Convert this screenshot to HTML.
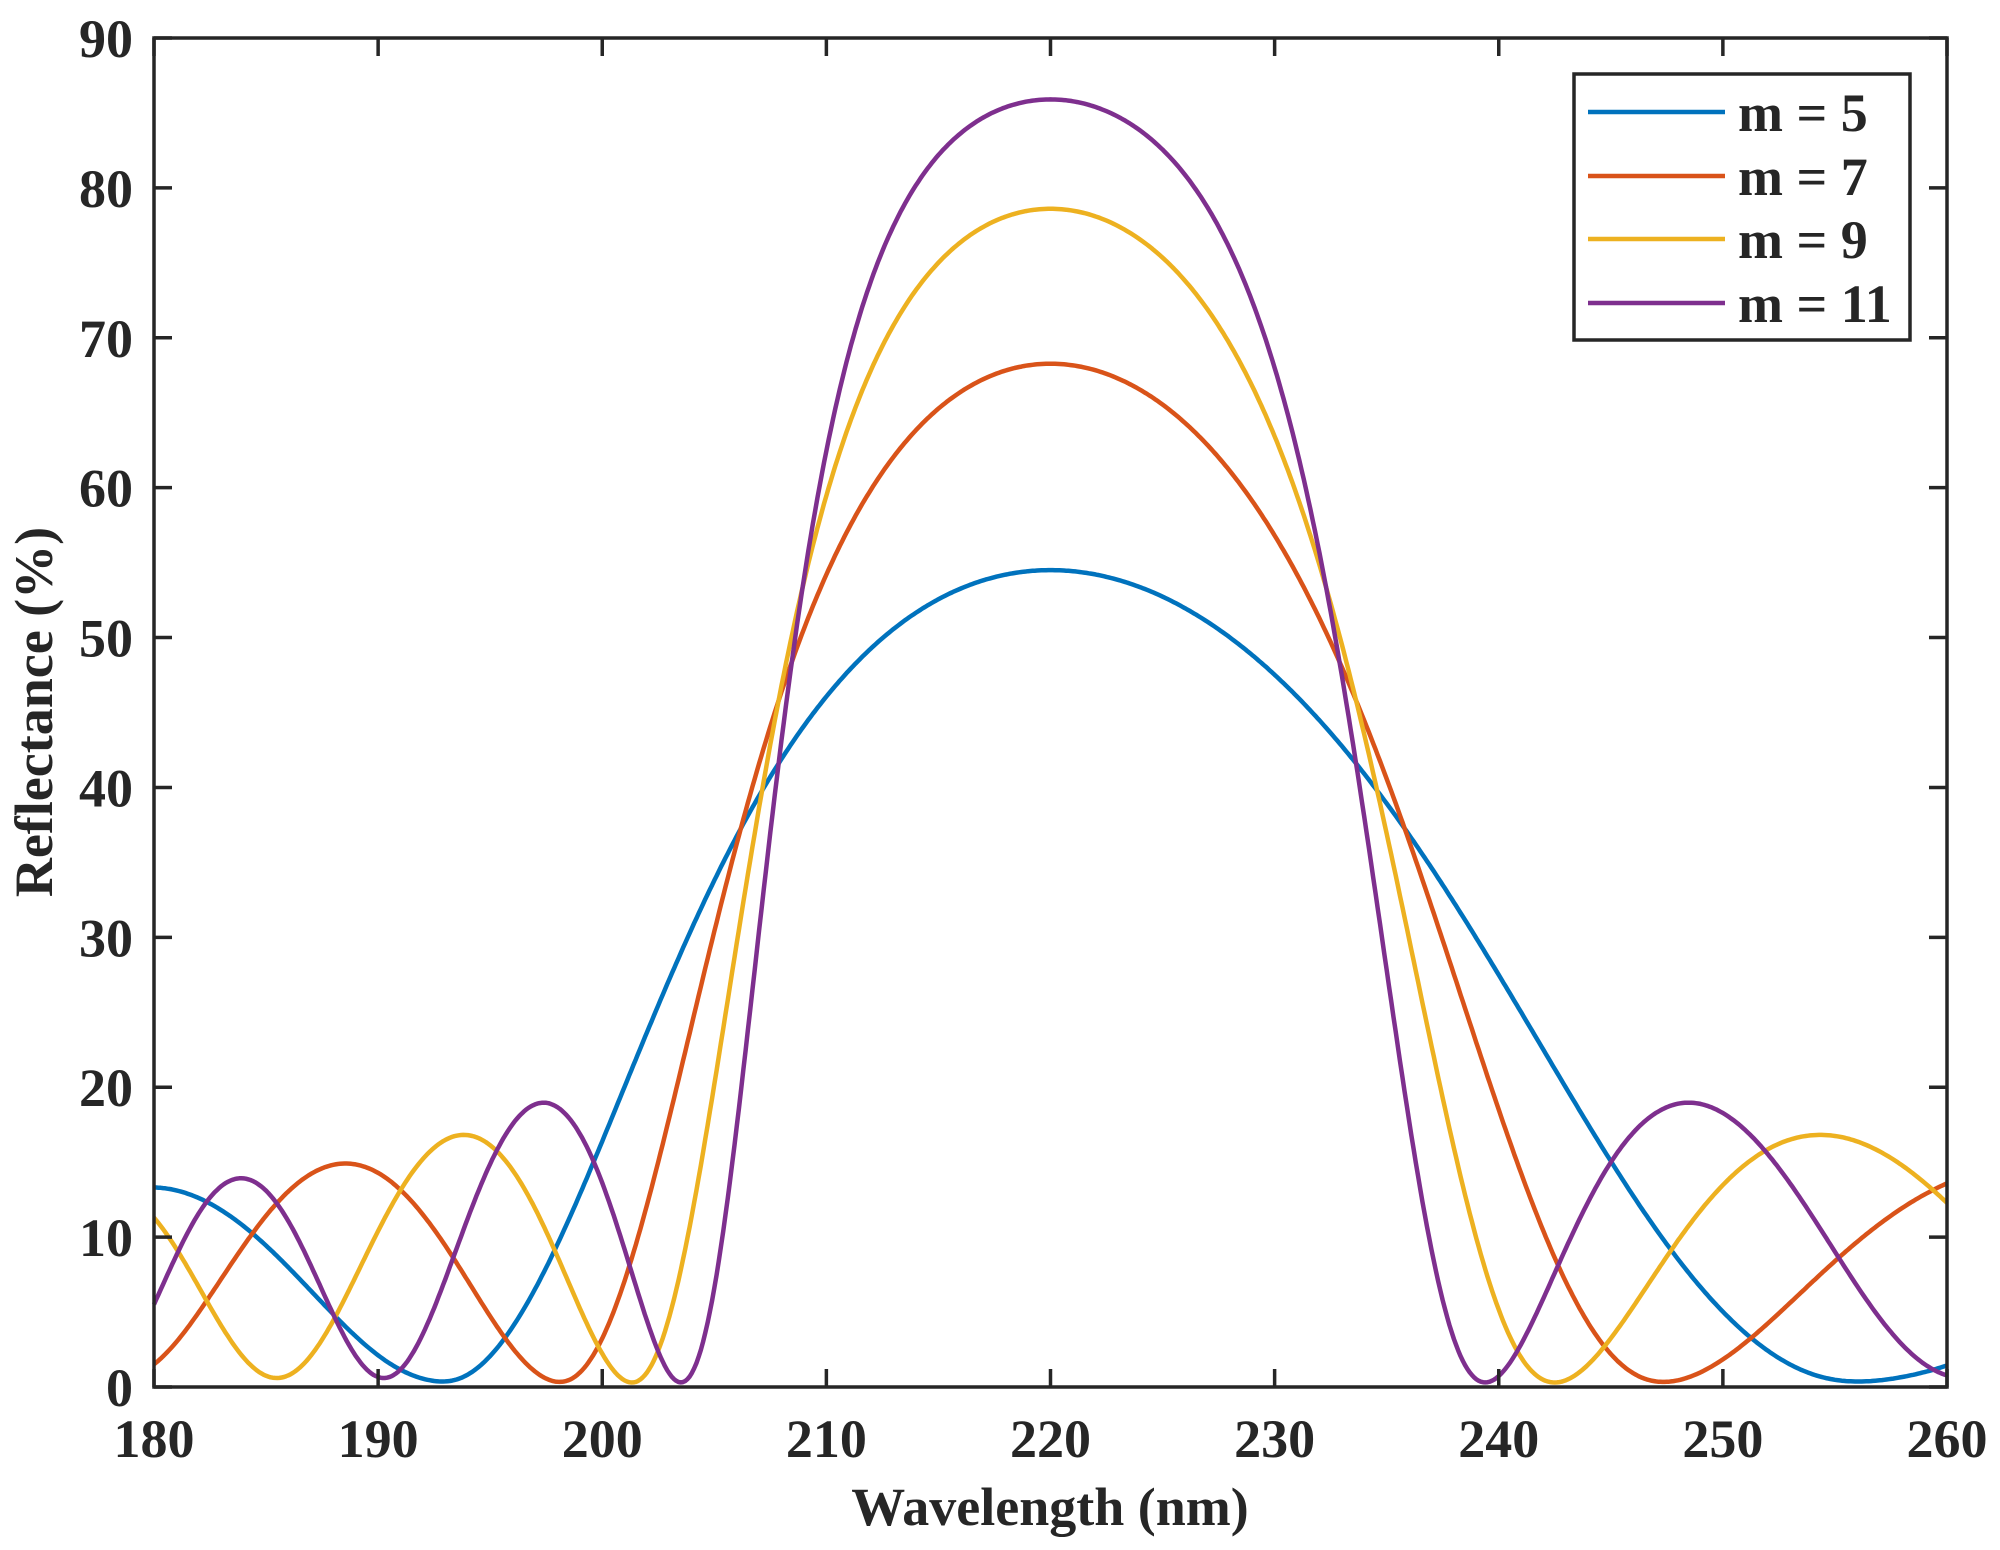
<!DOCTYPE html>
<html><head><meta charset="utf-8"><style>
html,body{margin:0;padding:0;background:#fff;}
svg{display:block;}
text{font-family:"Liberation Serif",serif;font-weight:bold;fill:#262626;}
</style></head><body>
<svg id="s" width="2000" height="1550" viewBox="0 0 2000 1550" xmlns="http://www.w3.org/2000/svg">
<rect width="2000" height="1550" fill="#fff"/>
<g id="curves" fill="none" stroke-width="4.5" stroke-linejoin="round"></g>
<g id="axes" stroke="#262626" stroke-width="3.5" fill="none"></g>
<g id="labels" font-size="54"></g>
<text x="1050" y="1525" font-size="54" text-anchor="middle">Wavelength (nm)</text>
<text transform="translate(52,712) rotate(-90)" font-size="54" text-anchor="middle">Reflectance (%)</text>
<rect x="1574" y="74" width="336" height="266" fill="#fff" stroke="#262626" stroke-width="3.5"/>
<g stroke-width="4.5">
<line x1="1588" y1="112" x2="1725" y2="112" stroke="#0072BD"/>
<line x1="1588" y1="176" x2="1725" y2="176" stroke="#D95319"/>
<line x1="1588" y1="239" x2="1725" y2="239" stroke="#EDB120"/>
<line x1="1588" y1="303" x2="1725" y2="303" stroke="#7E2F8E"/>
</g>
<g font-size="54">
<text x="1738" y="131">m = 5</text>
<text x="1738" y="195">m = 7</text>
<text x="1738" y="258">m = 9</text>
<text x="1738" y="322">m = 11</text>
</g>
</svg>
<script>
(function(){
var X0=154,X1=1947,Y0=38,Y1=1387;
function px(l){return X0+(l-180)*(X1-X0)/80;}
function py(r){return Y1-r*(Y1-Y0)/90;}
var NS="http://www.w3.org/2000/svg";
function el(t,a,p){var e=document.createElementNS(NS,t);for(var k in a)e.setAttribute(k,a[k]);p.appendChild(e);return e;}
var ax=document.getElementById('axes'),lb=document.getElementById('labels');
el('rect',{x:X0,y:Y0,width:X1-X0,height:Y1-Y0},ax);
var T=18;
for(var l=180;l<=260;l+=10){var x=px(l);
 el('line',{x1:x,y1:Y1,x2:x,y2:Y1-T},ax);el('line',{x1:x,y1:Y0,x2:x,y2:Y0+T},ax);
 var t=el('text',{x:x,y:1457,'text-anchor':'middle'},lb);t.textContent=l;}
for(var r=0;r<=90;r+=10){var y=py(r);
 el('line',{x1:X0,y1:y,x2:X0+T,y2:y},ax);el('line',{x1:X1,y1:y,x2:X1-T,y2:y},ax);
 var t=el('text',{x:133,y:y+19,'text-anchor':'end'},lb);t.textContent=r;}
var nH=1.628,nL=1.294,n0=1,ns=1,S=2.0;
var uz={5:0.14,7:0.11,9:0.093,11:0.081};
function R(lam,m){
 var u=220/lam-1;
 var d=Math.PI/2*(1+S*u),a=1,b=0,c=0,dd=1;
 for(var i=0;i<m;i++){var n=(i%2==0)?nH:nL,cs=Math.cos(d),sn=Math.sin(d);
  var a2=cs,b2=sn/n,c2=n*sn,d2=cs;
  var na=a*a2-b*c2,nb=a*b2+b*d2,nc=c*a2+dd*c2,nd=-c*b2+dd*d2;
  a=na;b=nb;c=nc;dd=nd;}
 var nr=n0*a-ns*dd,ni=n0*ns*b-c,dr=n0*a+ns*dd,di=n0*ns*b+c;
 var r=(nr*nr+ni*ni)/(dr*dr+di*di)*100;
 var s=1/(1+Math.exp(-(Math.abs(u)-uz[m])/0.004));
 return r*(1-0.11*s)+0.6*s;}
var cols={5:"#0072BD",7:"#D95319",9:"#EDB120",11:"#7E2F8E"};
var cg=document.getElementById('curves');
[5,7,9,11].forEach(function(m){var pts=[];
 for(var i=0;i<=800;i++){var l=180+i*0.1;pts.push(px(l).toFixed(1)+","+py(R(l,m)).toFixed(1));}
 el('polyline',{points:pts.join(" "),stroke:cols[m]},cg);});
})();
</script>
</body></html>
